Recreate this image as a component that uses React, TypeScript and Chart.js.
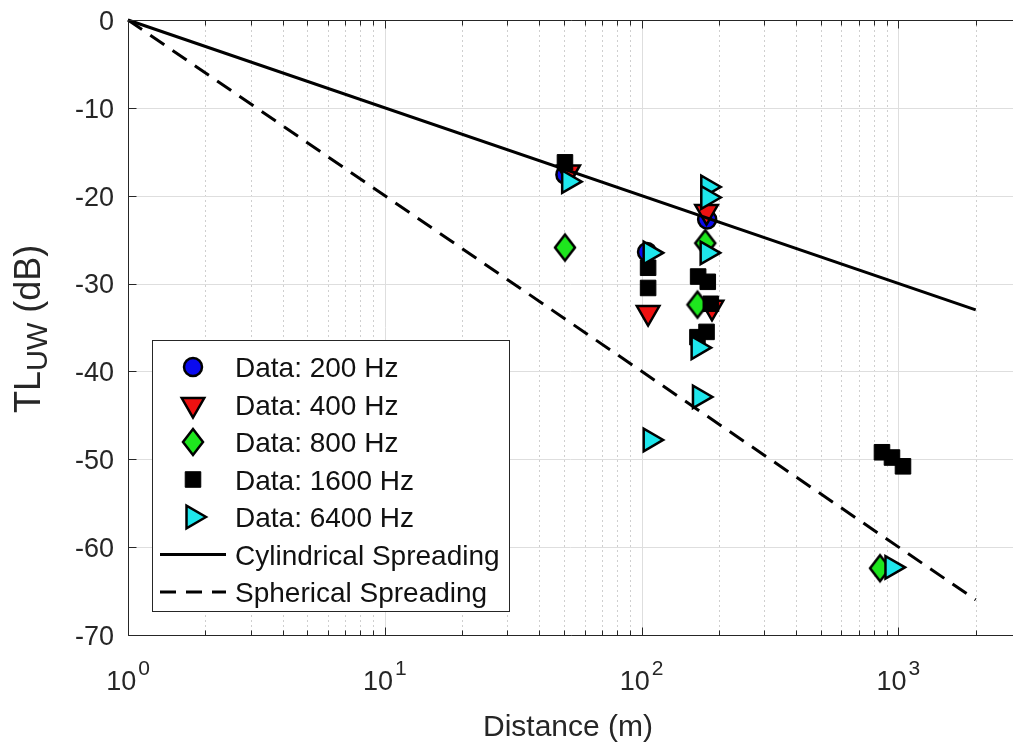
import React, { useEffect, useRef } from "react";
import { Chart, registerables } from "chart.js";
import { drawPoint } from "chart.js/helpers";

Chart.register(...registerables);

const FONT = '"Liberation Sans", Arial, Helvetica, sans-serif';
const AXIS_COLOR = "#262626";

// ---- data (distance in m, TL in dB) ----
const d200X = [50.5, 105, 180];
const d200Y = [-17.6, -26.4, -22.7];
const d400X = [52, 106, 179, 188];
const d400Y = [-17.3, -33.3, -21.8, -32.7];
const d800X = [50.3, 177, 165, 848];
const d800Y = [-25.9, -25.4, -32.4, -62.4];
const d1600X = [50.3, 106, 106, 166, 181, 186, 179, 165, 863, 944, 1042];
const d1600Y = [-16.2, -28.2, -30.5, -29.2, -29.8, -32.3, -35.5, -36.1, -49.2, -49.8, -50.8];
const d6400X = [52, 108, 108, 181, 181, 180, 166, 168, 944];
const d6400Y = [-18.4, -26.5, -47.8, -19.0, -20.2, -26.5, -37.3, -42.9, -62.3];

const spreadX = [1, 2000];
const cylindricalY = [0, -33];
const sphericalY = [0, -66];

const yTickValues = [0, -10, -20, -30, -40, -50, -60, -70];
const xDecades = [1, 10, 100, 1000];
const xDecadeExponents = ["0", "1", "2", "3"];
const xMinorFactors = [2, 3, 4, 5, 6, 7, 8, 9];

const X_MIN = 1;
const X_MAX = 2794;
const Y_MIN = -70;
const Y_MAX = 0;

const legendLabels = [
  "Data: 200 Hz",
  "Data: 400 Hz",
  "Data: 800 Hz",
  "Data: 1600 Hz",
  "Data: 6400 Hz",
  "Cylindrical Spreading",
  "Spherical Spreading",
];

const toPts = (xs: number[], ys: number[]) => xs.map((x, i) => ({ x, y: ys[i] }));

type MarkerSpec = {
  style: any;
  rotation: number;
  radius: number;
  fill: string;
  borderWidth: number;
};

const markers: MarkerSpec[] = [
  { style: "circle", rotation: 0, radius: 9, fill: "#0a0aef", borderWidth: 2.5 },
  { style: "triangle", rotation: 180, radius: 13, fill: "#ee1111", borderWidth: 2.5 },
  { style: "rectRot", rotation: 0, radius: 11, fill: "#1ee61e", borderWidth: 2.5 },
  { style: "rect", rotation: 0, radius: 11, fill: "#000000", borderWidth: 1 },
  { style: "triangle", rotation: 90, radius: 13, fill: "#1ee6ec", borderWidth: 2.5 },
];

function makeDiamond(fill: string): HTMLCanvasElement {
  const c = document.createElement("canvas");
  c.width = 26;
  c.height = 32;
  const g = c.getContext("2d")!;
  g.beginPath();
  g.moveTo(13, 3);
  g.lineTo(23, 16);
  g.lineTo(13, 29);
  g.lineTo(3, 16);
  g.closePath();
  g.fillStyle = fill;
  g.fill();
  g.lineWidth = 2.5;
  g.lineJoin = "miter";
  g.strokeStyle = "#000000";
  g.stroke();
  return c;
}

const seriesX = [d200X, d400X, d800X, d1600X, d6400X];
const seriesY = [d200Y, d400Y, d800Y, d1600Y, d6400Y];
const seriesOrder = [5, 4, 3, 2, 1];

const customPlugin = {
  id: "matlabLook",
  beforeDatasetsDraw(chart: any) {
    const { ctx, chartArea, scales } = chart;
    const xs = scales.x;
    const ys = scales.y;
    ctx.save();
    ctx.strokeStyle = "#cfcfcf";
    ctx.lineWidth = 1;
    ctx.setLineDash([2, 3]);
    for (const d of xDecades) {
      for (const f of xMinorFactors) {
        const v = d * f;
        if (v > X_MAX) continue;
        const px = Math.round(xs.getPixelForValue(v)) + 0.5;
        ctx.beginPath();
        ctx.moveTo(px, chartArea.top);
        ctx.lineTo(px, chartArea.bottom);
        ctx.stroke();
      }
    }
    ctx.setLineDash([]);
    ctx.strokeStyle = "#dedede";
    for (const d of xDecades) {
      const px = Math.round(xs.getPixelForValue(d)) + 0.5;
      ctx.beginPath();
      ctx.moveTo(px, chartArea.top);
      ctx.lineTo(px, chartArea.bottom);
      ctx.stroke();
    }
    for (const v of yTickValues) {
      const py = Math.round(ys.getPixelForValue(v)) + 0.5;
      ctx.beginPath();
      ctx.moveTo(chartArea.left, py);
      ctx.lineTo(chartArea.right, py);
      ctx.stroke();
    }
    ctx.restore();
  },
  afterDatasetsDraw(chart: any) {
    const { ctx, chartArea, scales } = chart;
    const xs = scales.x;
    const ys = scales.y;
    const L = Math.round(chartArea.left) + 0.5;
    const T = Math.round(chartArea.top) + 0.5;
    const B = Math.round(chartArea.bottom) + 0.5;
    const R = chartArea.right;
    ctx.save();
    ctx.strokeStyle = AXIS_COLOR;
    ctx.lineWidth = 1;
    ctx.setLineDash([]);
    ctx.beginPath();
    ctx.moveTo(L, T);
    ctx.lineTo(R + 5, T);
    ctx.moveTo(L, T);
    ctx.lineTo(L, B);
    ctx.lineTo(R + 5, B);
    ctx.stroke();
    const tick = (px: number, len: number) => {
      ctx.beginPath();
      ctx.moveTo(px, B);
      ctx.lineTo(px, B - len);
      ctx.moveTo(px, T);
      ctx.lineTo(px, T + len);
      ctx.stroke();
    };
    for (const d of xDecades) {
      tick(Math.round(xs.getPixelForValue(d)) + 0.5, 8);
      for (const f of xMinorFactors) {
        const v = d * f;
        if (v > X_MAX) continue;
        tick(Math.round(xs.getPixelForValue(v)) + 0.5, 5);
      }
    }
    for (const v of yTickValues) {
      const py = Math.round(ys.getPixelForValue(v)) + 0.5;
      ctx.beginPath();
      ctx.moveTo(L, py);
      ctx.lineTo(L + 8, py);
      ctx.stroke();
    }
    // y tick labels
    ctx.fillStyle = AXIS_COLOR;
    ctx.font = `27px ${FONT}`;
    ctx.textAlign = "right";
    ctx.textBaseline = "alphabetic";
    for (const v of yTickValues) {
      const py = ys.getPixelForValue(v);
      ctx.fillText(String(v), chartArea.left - 14, py + 9.8);
    }
    // x tick labels with superscript
    xDecades.forEach((d, i) => {
      const px = xs.getPixelForValue(d);
      ctx.font = `27px ${FONT}`;
      const wBase = ctx.measureText("10").width;
      ctx.font = `21px ${FONT}`;
      const wExp = ctx.measureText(xDecadeExponents[i]).width;
      const start = px - (wBase + wExp + 2) / 2;
      ctx.textAlign = "left";
      ctx.font = `27px ${FONT}`;
      ctx.fillText("10", start, chartArea.bottom + 55);
      ctx.font = `21px ${FONT}`;
      ctx.fillText(xDecadeExponents[i], start + wBase + 2, chartArea.bottom + 40);
    });
    // x title
    ctx.font = `30px ${FONT}`;
    ctx.textAlign = "center";
    ctx.fillText("Distance (m)", 568, 736);
    // y title with subscript
    ctx.save();
    ctx.translate(40, 413);
    ctx.rotate(-Math.PI / 2);
    ctx.textAlign = "left";
    ctx.font = `36px ${FONT}`;
    ctx.fillText("TL", 0, 0);
    let off = ctx.measureText("TL").width;
    ctx.font = `29px ${FONT}`;
    ctx.fillText("UW", off, 7);
    off += ctx.measureText("UW").width;
    ctx.font = `36px ${FONT}`;
    ctx.fillText(" (dB)", off, 0);
    ctx.restore();

    // legend
    const bx = 152.5, by = 340.5, bw = 357, bh = 271;
    ctx.fillStyle = "#ffffff";
    ctx.fillRect(bx, by, bw, bh);
    ctx.strokeStyle = AXIS_COLOR;
    ctx.lineWidth = 1;
    ctx.strokeRect(bx, by, bw, bh);
    ctx.font = `28px ${FONT}`;
    ctx.textAlign = "left";
    const dsList = chart.data.datasets;
    legendLabels.forEach((label, i) => {
      const cy = 367 + i * 37.5;
      if (i < 5) {
        const m = markers[i];
        ctx.fillStyle = m.fill;
        ctx.strokeStyle = "#000000";
        ctx.lineWidth = m.borderWidth;
        drawPoint(
          ctx,
          { pointStyle: dsList[i].pointStyle, rotation: m.rotation, radius: m.radius, borderWidth: m.borderWidth } as any,
          193,
          cy
        );
      } else {
        ctx.strokeStyle = "#000000";
        ctx.lineWidth = 3;
        ctx.setLineDash(i === 6 ? [16, 10] : []);
        ctx.beginPath();
        ctx.moveTo(160, cy);
        ctx.lineTo(226, cy);
        ctx.stroke();
        ctx.setLineDash([]);
      }
      ctx.fillStyle = "#111111";
      ctx.fillText(label, 235, cy + 10);
    });
    ctx.restore();
  },
};

export default function App() {
  const ref = useRef<HTMLCanvasElement | null>(null);
  useEffect(() => {
    if (!ref.current) return;
    const diamond = makeDiamond(markers[2].fill);
    const datasets: any[] = seriesX.map((xs, i) => ({
      label: legendLabels[i],
      data: toPts(xs, seriesY[i]),
      showLine: false,
      pointStyle: i === 2 ? diamond : markers[i].style,
      pointRotation: markers[i].rotation,
      pointRadius: markers[i].radius,
      pointBackgroundColor: markers[i].fill,
      pointBorderColor: "#000000",
      pointBorderWidth: markers[i].borderWidth,
      order: seriesOrder[i],
      clip: false,
    }));
    datasets.push({
      label: legendLabels[5],
      data: toPts(spreadX, cylindricalY),
      showLine: true,
      borderColor: "#000000",
      borderWidth: 3,
      pointRadius: 0,
      order: 0,
      clip: false,
    });
    datasets.push({
      label: legendLabels[6],
      data: toPts(spreadX, sphericalY),
      showLine: true,
      borderColor: "#000000",
      borderWidth: 3,
      borderDash: [17, 10],
      pointRadius: 0,
      order: 0,
      clip: false,
    });
    const chart = new Chart(ref.current, {
      type: "scatter",
      data: { datasets },
      options: {
        animation: false,
        responsive: false,
        devicePixelRatio: 1,
        layout: { autoPadding: false, padding: { left: 128, top: 20, right: 0, bottom: 112 } },
        scales: {
          x: { type: "logarithmic", min: X_MIN, max: X_MAX, display: false },
          y: { type: "linear", min: Y_MIN, max: Y_MAX, display: false },
        },
        plugins: {
          legend: { display: false },
          tooltip: { enabled: false },
        },
      },
      plugins: [customPlugin],
    });
    return () => chart.destroy();
  }, []);
  return (
    <div style={{ position: "fixed", left: 0, top: 0, width: 1013, height: 747, background: "#fff", overflow: "hidden" }}>
      <canvas ref={ref} width={1013} height={747} style={{ display: "block" }} />
    </div>
  );
}
